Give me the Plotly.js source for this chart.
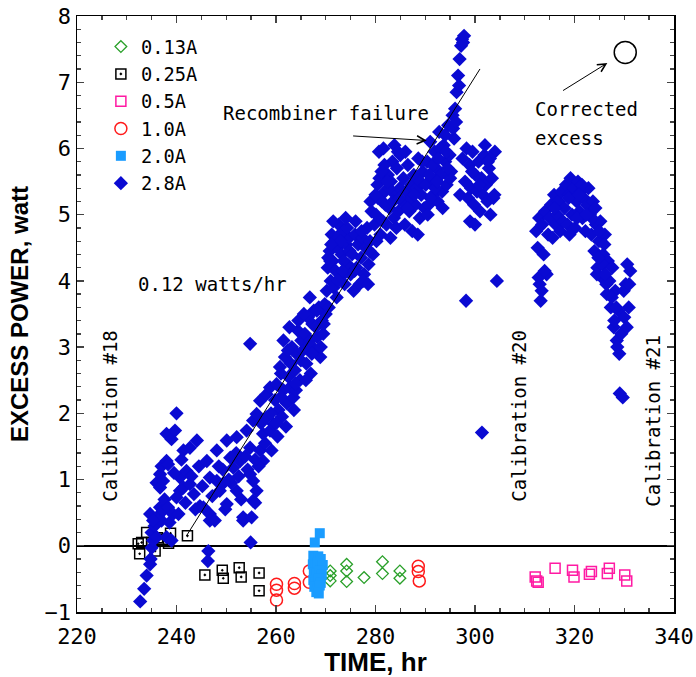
<!DOCTYPE html>
<html>
<head>
<meta charset="utf-8">
<script src="https://cdn.plot.ly/plotly-3.0.1.min.js"></script>
<style>html,body{margin:0;padding:0;background:#fff;}#chart{width:696px;height:677px;}</style>
</head>
<body>
<div id="chart"></div>
<script>
// ---- data (TIME hr, EXCESS POWER watt) ----
var seriesNames = ["0.13A", "0.25A", "0.5A", "1.0A", "2.0A", "2.8A"];

var time013 = [270.9,270.9,270.9,274.2,274.2,274.2,277.7,281.4,281.4,284.9,284.9];
var power013 = [-0.38,-0.45,-0.53,-0.28,-0.38,-0.54,-0.48,-0.24,-0.42,-0.38,-0.49];

var time025 = [232.3,232.6,233.0,234.0,235.0,235.7,236.2,237.2,238.4,238.8,242.2,245.7,249.2,249.4,252.6,253.0,256.6,256.6];
var power025 = [0.03,-0.12,0.05,0.20,0.05,-0.08,0.12,0.10,0.04,0.19,0.15,-0.44,-0.37,-0.49,-0.33,-0.47,-0.41,-0.68];

var time05 = [312.1,312.4,312.7,316.1,319.6,319.9,323.0,323.4,326.6,327.0,330.1,330.5];
var power05 = [-0.47,-0.53,-0.55,-0.34,-0.37,-0.47,-0.43,-0.39,-0.42,-0.34,-0.44,-0.53];

var time10 = [260.1,260.1,260.1,263.7,263.7,266.7,266.7,288.6,288.6,288.8];
var power10 = [-0.58,-0.67,-0.82,-0.57,-0.64,-0.38,-0.55,-0.31,-0.39,-0.53];

var time20 = [267.8,268.8,267.5,268.0,268.5,269.0,267.4,267.9,268.4,268.9,269.4,267.6,268.2,268.7,269.2,267.5,268.0,268.5,269.0,267.7,268.3,268.8,268.1,268.6];
var power20 = [0.05,0.19,-0.15,-0.18,-0.16,-0.20,-0.28,-0.30,-0.26,-0.32,-0.29,-0.40,-0.42,-0.38,-0.44,-0.52,-0.55,-0.50,-0.56,-0.62,-0.65,-0.60,-0.70,-0.72];

var time28 = [
 232.7,233.5,234.0,234.7,234.8,235.0,235.3,235.0,235.6,236.0,
 236.3,236.7,237.0,237.3,237.6,238.0,238.3,238.6,239.0,239.3,
 234.7,235.3,236.0,236.7,236.7,237.3,237.0,238.0,238.3,238.0,
 239.0,239.7,240.0,240.4,240.7,240.7,241.0,241.4,241.4,242.0,
 242.7,242.7,243.5,244.1,244.5,243.0,240.0,239.5,241.8,243.8,
 244.7,245.4,246.1,246.7,246.7,246.7,247.2,247.7,248.1,248.1,
 248.7,249.3,249.8,250.1,250.1,250.8,245.2,246.4,246.3,248.5,
 251.4,252.1,252.1,252.8,253.4,253.4,254.1,254.8,254.8,254.9,
 255.1,255.4,255.4,255.4,255.8,256.1,256.1,256.8,256.8,257.4,
 257.4,258.1,258.1,258.8,258.8,259.1,259.5,251.0,252.5,253.8,
 254.8,254.3,256.5,257.8,250.5,252.0,253.0,255.8,257.0,249.5,
 260.1,260.5,260.8,261.2,261.5,261.8,262.2,262.5,262.8,263.2,
 263.5,263.8,264.1,264.4,264.8,265.1,260.0,261.0,262.0,263.0,
 264.0,265.0,259.8,260.3,261.5,262.7,263.6,264.5,265.4,259.0,
 265.8,266.1,266.4,266.7,267.0,267.3,267.6,268.0,268.3,268.6,
 268.9,269.2,269.5,269.8,266.0,267.2,268.0,269.0,270.0,266.8,
 270.2,270.4,270.6,270.8,271.0,271.2,271.4,271.6,271.8,272.0,
 272.3,272.6,272.9,273.2,273.5,273.8,274.1,274.4,274.7,275.0,
 271.5,272.8,273.6,274.3,270.5,272.2,273.0,274.8,271.1,273.4,
 275.3,275.6,275.9,276.2,276.5,276.8,277.1,277.4,277.7,278.0,
 278.3,278.6,278.9,279.2,279.5,279.8,276.0,277.5,278.5,279.0,
 280.1,280.4,280.7,281.0,281.3,281.6,281.9,282.2,282.5,282.8,
 283.1,283.4,283.7,284.0,284.3,284.6,284.9,280.5,281.8,283.0,
 283.8,284.5,282.0,280.8,285.0,281.5,282.7,284.2,283.5,280.2,
 285.3,285.6,285.9,286.2,286.5,286.8,287.1,287.4,287.7,288.0,
 288.3,288.6,288.9,289.2,289.5,289.8,286.0,287.0,288.5,289.0,
 290.1,290.4,290.7,291.0,291.3,291.6,291.9,292.2,292.5,292.8,
 293.1,293.4,293.7,294.0,294.3,294.6,294.9,295.2,295.5,295.8,
 290.5,291.5,292.0,293.0,294.0,295.0,293.5,291.0,294.5,292.6,
 295.6,296.0,296.3,296.6,296.9,297.2,297.4,297.6,297.8,296.2,
 297.5,298.0,298.3,298.6,298.9,299.2,299.5,299.8,300.1,300.4,
 300.7,301.0,301.3,301.6,301.9,302.2,302.5,302.8,303.1,303.4,
 303.7,304.0,298.2,301.4,304.4,299.0,300.0,302.0,303.0,297.0,
 312.3,312.6,312.9,313.2,313.5,313.8,314.1,314.4,314.7,315.0,
 315.3,315.6,315.9,316.2,316.5,316.8,317.1,317.4,317.7,313.0,
 318.0,318.3,318.6,318.9,319.2,319.5,319.8,320.1,320.4,320.7,
 321.0,321.3,321.6,321.9,322.2,322.5,322.8,319.0,320.5,321.5,
 323.1,323.4,323.7,324.0,324.3,324.6,324.9,325.2,325.5,325.8,
 326.1,326.4,326.7,323.5,324.5,325.0,326.0,326.5,324.2,325.6,
 327.0,327.3,327.6,327.9,328.2,328.5,328.8,329.1,329.4,329.7,
 330.0,330.3,330.6,330.9,331.2,327.5,328.0,329.0,330.5,328.6,
 261.0,262.4,263.9,265.6,266.9,268.2,269.6,270.9,272.5,274.0,
 275.8,277.2,278.8,280.0,281.2,282.4,284.8,286.4,287.8,289.4,
 290.8,292.4,294.2,296.8,299.4,300.9,302.6,303.9,312.8,313.4,
 314.0,316.0,318.8,320.9,322.4,324.8,326.2,328.4,329.9,331.0
];
var power28 = [
 -0.84,-0.65,-0.45,-0.28,-0.20,-0.03,0.08,0.20,0.30,0.13,
 0.45,0.58,0.38,0.53,0.70,0.13,0.58,0.35,0.08,0.48,
 0.48,0.38,0.95,0.88,1.08,0.98,1.20,1.28,1.23,1.69,
 1.61,1.74,2.00,0.48,1.03,0.83,1.30,1.44,0.88,1.13,
 1.48,0.93,0.78,1.59,1.20,1.05,0.73,1.10,0.65,0.55,
 0.60,0.58,1.28,1.03,0.48,0.38,0.75,0.38,0.98,1.44,
 0.83,1.15,0.55,0.63,1.59,1.33,0.90,-0.08,-0.23,1.20,
 1.18,1.64,0.83,1.28,0.38,0.43,1.74,1.08,1.48,0.05,
 0.43,0.68,0.98,1.89,0.65,1.99,0.83,2.19,1.44,1.69,
 1.28,2.29,1.94,2.39,1.74,1.44,1.84,0.95,1.05,1.35,
 3.05,1.15,1.20,1.55,1.00,1.40,0.70,1.30,1.85,0.95,
 2.44,2.05,2.70,1.95,2.35,2.85,2.15,2.55,2.39,3.00,
 2.24,2.65,2.90,3.25,2.50,3.10,1.85,2.60,1.80,2.75,
 2.35,2.80,2.20,1.65,3.10,3.30,2.05,3.40,2.95,2.00,
 3.20,2.75,3.45,3.05,2.60,3.35,3.55,2.95,3.15,3.60,
 2.85,3.40,3.20,3.65,2.50,2.90,3.30,3.00,3.50,3.75,
 3.85,4.20,3.60,4.45,4.00,4.70,4.30,3.90,4.60,4.15,
 4.50,4.85,4.05,4.40,4.75,3.95,4.55,4.25,4.65,4.10,
 4.90,4.70,4.30,4.80,4.35,3.75,4.60,4.45,4.55,4.15,
 4.40,3.85,4.70,4.20,4.55,3.95,4.35,4.65,4.10,4.50,
 4.80,4.25,4.60,5.05,4.40,4.85,4.90,4.00,3.95,5.20,
 5.00,5.45,5.95,4.70,5.20,6.00,5.35,4.85,5.60,5.10,
 5.50,5.80,4.95,5.30,5.70,5.05,5.40,5.25,5.75,4.65,
 6.05,5.95,5.15,5.55,5.90,4.90,5.40,4.80,5.20,4.60,
 5.20,5.55,4.85,5.35,5.75,5.05,5.45,4.75,5.60,5.15,
 5.40,5.85,4.95,5.30,5.65,5.10,5.95,5.25,4.70,5.50,
 5.45,5.80,5.15,6.10,5.55,5.30,5.95,5.70,5.20,6.25,
 5.60,5.35,6.05,5.80,5.45,6.35,5.90,5.65,6.50,6.15,
 5.00,5.75,5.40,6.00,6.20,5.55,5.10,5.25,5.70,5.85,
 6.30,6.60,6.85,7.10,7.35,7.55,7.65,7.60,7.70,6.40,
 5.85,5.50,6.00,5.25,5.75,5.40,5.95,5.15,5.60,5.35,
 5.80,5.05,5.55,5.30,5.90,5.45,5.20,5.70,5.00,5.55,
 5.25,5.95,3.70,1.71,4.00,4.90,4.85,6.05,5.85,5.30,
 4.75,4.50,4.95,3.70,4.85,4.40,5.05,4.10,4.70,4.95,
 5.15,4.65,5.30,4.85,5.00,5.20,4.75,5.35,4.90,3.95,
 5.10,5.45,4.85,5.30,5.55,5.00,5.40,4.80,5.20,5.50,
 5.05,5.35,4.95,5.25,4.75,5.15,5.40,4.70,4.95,5.45,
 5.00,4.70,5.20,4.45,4.85,4.20,4.60,4.90,4.05,4.40,
 4.70,3.95,4.30,4.95,4.10,4.75,4.55,3.80,5.10,4.25,
 4.00,3.60,4.20,3.30,3.85,3.10,3.55,2.30,3.20,2.24,
 3.45,3.95,4.25,3.60,4.15,3.75,3.40,2.90,3.30,3.00,
 2.25,2.95,2.45,3.50,3.10,3.55,3.35,4.30,4.00,4.95,
 4.15,4.75,4.45,5.30,5.65,5.50,5.25,5.10,5.30,5.80,
 5.60,5.50,5.95,6.95,5.65,5.45,5.80,5.30,4.05,3.85,
 4.15,5.10,5.25,5.30,5.00,4.35,4.10,3.60,3.85,3.95
];

// fitted trend line (0.12 watts/hr)
var fitTime = [242.0, 301.0];
var fitPower = [0.15, 7.20];

// corrected excess marker
var corrTime = [330.2];
var corrPower = [7.45];

// ---- traces ----
var mono = "DejaVu Sans Mono, Liberation Mono, monospace";
var boldSans = "Liberation Sans";
var traces = [
  {x: time013, y: power013, name: seriesNames[0], type: "scatter", mode: "markers",
   marker: {symbol: "diamond-open", size: 9, color: "#2aa02a", line: {width: 1.3, color: "#2aa02a"}}},
  {x: time025, y: power025, name: seriesNames[1], type: "scatter", mode: "markers",
   marker: {symbol: "square-open-dot", size: 10, color: "#000", line: {width: 1.5, color: "#000"}}},
  {x: time05, y: power05, name: seriesNames[2], type: "scatter", mode: "markers",
   marker: {symbol: "square-open", size: 10, color: "#ff1aa3", line: {width: 1.5, color: "#ff1aa3"}}},
  {x: time10, y: power10, name: seriesNames[3], type: "scatter", mode: "markers",
   marker: {symbol: "circle-open", size: 12, color: "#ff1a1a", line: {width: 1.5, color: "#ff1a1a"}}},
  {x: time20, y: power20, name: seriesNames[4], type: "scatter", mode: "markers",
   marker: {symbol: "square", size: 10, color: "#1a9cff"}},
  {x: time28, y: power28, name: seriesNames[5], type: "scatter", mode: "markers",
   marker: {symbol: "diamond", size: 11, color: "#0a0ad2"}},
  {x: fitTime, y: fitPower, type: "scatter", mode: "lines", showlegend: false, hoverinfo: "skip",
   line: {color: "#000", width: 1}},
  {x: corrTime, y: corrPower, type: "scatter", mode: "markers", showlegend: false,
   marker: {symbol: "circle-open", size: 22, color: "#000", line: {width: 1.5, color: "#000"}}}
];

var annFont = {family: mono, size: 19, color: "#000"};
var layout = {
  width: 696, height: 677,
  margin: {l: 77, r: 22, t: 16, b: 65},
  paper_bgcolor: "#fff", plot_bgcolor: "#fff",
  font: {family: mono, size: 20, color: "#000"},
  showlegend: true,
  legend: {x: 0.04, y: 0.98, xanchor: "left", yanchor: "top", bgcolor: "rgba(0,0,0,0)",
           font: {family: mono, size: 18.7, color: "#000"}},
  xaxis: {
    range: [220, 340], dtick: 20, tick0: 220, ticks: "inside", ticklen: 7, tickwidth: 1.3,
    minor: {dtick: 5, ticks: "inside", ticklen: 4, tickwidth: 1.3},
    showline: true, linecolor: "#000", linewidth: 1.5, mirror: "ticks",
    showgrid: false, zeroline: false, ticklabelstandoff: 4,
    tickfont: {family: mono, size: 22, color: "#000"},
    title: {text: "TIME, hr", standoff: 3,
            font: {family: boldSans, size: 26, weight: "bold", color: "#000"}}
  },
  yaxis: {
    range: [-1, 8], dtick: 1, tick0: 0, ticks: "inside", ticklen: 7, tickwidth: 1.3,
    minor: {dtick: 0.2, ticks: "inside", ticklen: 4, tickwidth: 1.3},
    showline: true, linecolor: "#000", linewidth: 1.5, mirror: "ticks",
    showgrid: false, zeroline: true, zerolinecolor: "#000", zerolinewidth: 1.5,
    tickfont: {family: mono, size: 22, color: "#000"},
    title: {text: "EXCESS POWER, watt", standoff: 9,
            font: {family: boldSans, size: 24, weight: "bold", color: "#000"}}
  },
  annotations: [
    {x: 270.1, y: 6.53, xref: "x", yref: "y", text: "Recombiner failure", showarrow: false, font: annFont},
    {x: 290.3, y: 6.12, ax: 275.2, ay: 6.19, xref: "x", yref: "y", axref: "x", ayref: "y",
     text: "", showarrow: true, arrowhead: 5, arrowsize: 1.6, arrowwidth: 1, arrowcolor: "#000"},
    {x: 247.3, y: 3.96, xref: "x", yref: "y", text: "0.12 watts/hr", showarrow: false, font: annFont},
    {x: 311.7, y: 6.60, xref: "x", yref: "y", xanchor: "left", text: "Corrected", showarrow: false, font: annFont},
    {x: 311.7, y: 6.16, xref: "x", yref: "y", xanchor: "left", text: "excess", showarrow: false, font: annFont},
    {x: 326.6, y: 7.29, ax: 317.4, ay: 6.86, xref: "x", yref: "y", axref: "x", ayref: "y",
     text: "", showarrow: true, arrowhead: 5, arrowsize: 1.6, arrowwidth: 1, arrowcolor: "#000"},
    {x: 226.6, y: 1.96, xref: "x", yref: "y", text: "Calibration #18", textangle: -90, showarrow: false, font: annFont},
    {x: 308.8, y: 1.96, xref: "x", yref: "y", text: "Calibration #20", textangle: -90, showarrow: false, font: annFont},
    {x: 335.8, y: 1.89, xref: "x", yref: "y", text: "Calibration #21", textangle: -90, showarrow: false, font: annFont}
  ]
};

Plotly.newPlot("chart", traces, layout, {displayModeBar: false, staticPlot: true});
</script>
</body>
</html>
